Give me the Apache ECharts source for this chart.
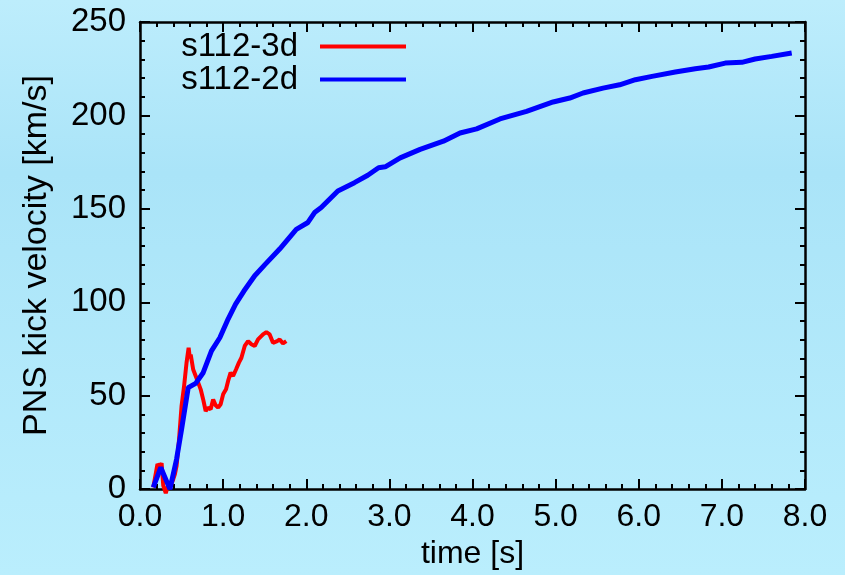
<!DOCTYPE html>
<html>
<head>
<meta charset="utf-8">
<script src="https://cdn.jsdelivr.net/npm/echarts@6/dist/echarts.min.js"></script>
<style>
html,body{margin:0;padding:0;}
#c{width:845px;height:575px;}
</style>
</head>
<body>
<div id="c"></div>
<script>
// ---- data ----
const seriesNames = ['s112-3d', 's112-2d'];
const xTickLabels = ['0.0','1.0','2.0','3.0','4.0','5.0','6.0','7.0','8.0'];
const yTickLabels = ['0','50','100','150','200','250'];

const t3d = [0.16,0.21,0.24,0.26,0.28,0.31,0.33,0.35,0.38,0.40,0.42,0.44,0.47,0.50,0.53,0.56,0.585,0.60,0.61,0.64,0.67,0.70,0.73,0.76,0.79,0.82,0.85,0.88,0.91,0.94,0.97,1.00,1.035,1.06,1.09,1.12,1.155,1.19,1.22,1.26,1.30,1.34,1.38,1.42,1.48,1.52,1.56,1.60,1.65,1.68,1.72,1.76];
const v3d = [0.9,13.4,12.0,13.9,1.8,-2.2,1.0,0.9,3.0,5.3,8.0,12.5,26.7,44.5,55.0,67.7,75.7,70.0,72.0,64.0,60.5,57.0,53.4,48.0,41.8,43.6,42.7,48.0,44.9,43.6,45.4,50.7,53.4,57.9,62.3,60.5,64.0,67.7,70.3,76.6,79.2,77.5,76.6,80.1,82.8,84.0,82.8,78.3,79.2,80.1,78.0,79.2];

const t2d = [0.16,0.25,0.36,0.44,0.50,0.58,0.67,0.76,0.86,0.96,1.06,1.15,1.25,1.38,1.50,1.68,1.88,2.02,2.10,2.18,2.38,2.58,2.74,2.87,2.95,3.13,3.37,3.65,3.85,4.05,4.33,4.65,4.97,5.17,5.33,5.57,5.77,5.96,6.16,6.44,6.68,6.84,7.04,7.24,7.40,7.60,7.84];
const v2d = [0.9,11.6,0,16,32,54.3,56.6,62.3,74,81,91,99,106,114.2,120,128.5,139,142.7,148,150.7,159.6,164,168,172,172.5,177.3,181.8,186.2,190.6,192.8,198.1,202.2,207.2,209.3,212,214.6,216.4,219.1,220.9,223.2,225,225.9,228,228.4,230.2,231.6,233.4];

const pairs = (t, v) => t.map((x, i) => [x, v[i]]);

const FONT = '"Liberation Sans", Arial, Helvetica, sans-serif';
const chart = echarts.init(document.getElementById('c'), null, {renderer: 'canvas'});

const tickStyle = {
  axisLine: {show: true, onZero: false, lineStyle: {color: '#000', width: 2.5}},
  axisTick: {show: true, inside: true, length: 10, lineStyle: {color: '#000', width: 2}},
  minorTick: {show: true, splitNumber: 5, length: 5, lineStyle: {color: '#000', width: 2}},
  splitLine: {show: false},
  minorSplitLine: {show: false}
};

chart.setOption({
  animation: false,
  backgroundColor: {
    type: 'linear', x: 0, y: 0, x2: 0, y2: 1,
    colorStops: [
      {offset: 0, color: '#bdedfc'},
      {offset: 0.3, color: '#aae4f8'},
      {offset: 1, color: '#baeefd'}
    ]
  },
  textStyle: {fontFamily: FONT},
  grid: {left: 140, right: 40, top: 22, bottom: 85},
  legend: {
    data: seriesNames,
    orient: 'vertical',
    align: 'right',
    right: 434,
    top: 25,
    itemWidth: 86,
    itemHeight: 4,
    itemGap: 0,
    icon: 'rect',
    textStyle: {fontSize: 33, color: '#000', fontFamily: FONT, lineHeight: 33, padding: [0, 17, 0, 0]}
  },
  xAxis: [
    Object.assign({
      type: 'value', min: 0, max: 8, interval: 1, position: 'bottom',
      name: 'time [s]', nameLocation: 'middle', nameGap: 48,
      nameTextStyle: {fontSize: 32, color: '#000', fontFamily: FONT},
      axisLabel: {fontSize: 32, color: '#000', margin: 12, fontFamily: FONT,
        formatter: (v) => xTickLabels[Math.round(v)]}
    }, tickStyle),
    Object.assign({
      type: 'value', min: 0, max: 8, interval: 1, position: 'top',
      axisLabel: {show: false}
    }, tickStyle)
  ],
  yAxis: [
    Object.assign({
      type: 'value', min: 0, max: 250, interval: 50, position: 'left',
      name: 'PNS kick velocity [km/s]', nameLocation: 'middle', nameGap: 86,
      nameTextStyle: {fontSize: 34, color: '#000', fontFamily: FONT},
      axisLabel: {fontSize: 33, color: '#000', margin: 14, fontFamily: FONT,
        formatter: (v) => yTickLabels[Math.round(v / 50)]}
    }, tickStyle),
    Object.assign({
      type: 'value', min: 0, max: 250, interval: 50, position: 'right',
      axisLabel: {show: false}
    }, tickStyle)
  ],
  series: [
    {
      name: seriesNames[0], type: 'line', data: pairs(t3d, v3d),
      showSymbol: false, symbol: 'none', clip: false,
      itemStyle: {color: '#ff0000'},
      lineStyle: {color: '#ff0000', width: 4}
    },
    {
      name: seriesNames[1], type: 'line', data: pairs(t2d, v2d),
      showSymbol: false, symbol: 'none', clip: false,
      itemStyle: {color: '#0000ff'},
      lineStyle: {color: '#0000ff', width: 5}
    }
  ]
});
</script>
</body>
</html>
